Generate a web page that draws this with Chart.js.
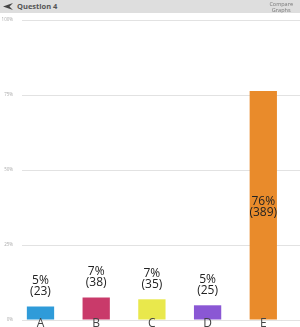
<!DOCTYPE html>
<html>
<head>
<meta charset="utf-8">
<script src="https://cdn.jsdelivr.net/npm/chart.js@4"></script>
<style>
    html, body { margin: 0; padding: 0; background: #fff; }
    body { width: 300px; height: 327px; position: relative; overflow: hidden; font-family: "Open Sans", sans-serif; }
    #header {
        position: absolute; left: 0; top: 0; width: 300px; height: 13px;
        background: #dedede; z-index: 2;
    }
    #header .back { position: absolute; left: 3px; top: 3px; }
    #header .title {
        position: absolute; left: 17px; top: 0; line-height: 13px;
        font-size: 7.5px; font-weight: bold; color: #555;
    }
    #header .compare {
        position: absolute; right: 7px; top: 1px; text-align: center;
        font-size: 5.5px; line-height: 6px; color: #777;
    }
    #wrap { position: absolute; left: 0; top: 0; width: 300px; height: 327px; }
</style>
</head>
<body>
<div id="header">
    <svg class="back" width="10" height="7" viewBox="0 0 10 7"><path d="M0 3.5 L10 0 L6.5 3.5 L10 7 Z" fill="#444"/></svg>
    <div class="title">Question 4</div>
    <div class="compare">Compare<br>Graphs</div>
</div>
<div id="wrap"><canvas id="chart" width="300" height="327"></canvas></div>
<script>
const categories = ['A', 'B', 'C', 'D', 'E'];
const counts = [23, 38, 35, 25, 389];
const percents = [4.5, 7.5, 6.9, 4.9, 76.3];
const percentLabels = ['5%', '7%', '7%', '5%', '76%'];
const barColors = ['#2f9bd9', '#c93a6a', '#e9e84c', '#8a57d4', '#e98b2b'];
const yTicks = [0, 25, 50, 75, 100];

const labelsPlugin = {
    id: 'barLabels',
    afterDatasetsDraw(chart) {
        const ctx = chart.ctx;
        const meta = chart.getDatasetMeta(0);
        const xScale = chart.scales.x;
        const area = chart.chartArea;
        ctx.save();
        ctx.textAlign = 'center';
        ctx.textBaseline = 'middle';
        ctx.font = '12px "Open Sans"';
        ctx.fillStyle = '#222';
        meta.data.forEach((bar, i) => {
            const top = bar.y;
            const base = bar.base;
            if (base - top > 60) {
                const mid = (top + base) / 2;
                ctx.fillText(percentLabels[i], bar.x, mid - 4);
                ctx.fillText('(' + counts[i] + ')', bar.x, mid + 7);
            } else {
                ctx.fillText(percentLabels[i], bar.x, top - 26);
                ctx.fillText('(' + counts[i] + ')', bar.x, top - 15);
            }
        });
        ctx.fillStyle = '#444';
        ctx.textBaseline = 'top';
        categories.forEach((c, i) => {
            ctx.fillText(c, xScale.getPixelForValue(i), area.bottom - 2);
        });
        ctx.restore();
    }
};

new Chart(document.getElementById('chart'), {
    type: 'bar',
    data: {
        datasets: [{
            data: percents.map((p, i) => ({ x: i, y: p })),
            backgroundColor: barColors,
            borderWidth: 0,
            barPercentage: 0.49,
            categoryPercentage: 1
        }]
    },
    options: {
        responsive: false,
        animation: false,
        layout: { padding: { top: 20, bottom: 7, left: 0, right: 0 } },
        plugins: { legend: { display: false }, tooltip: { enabled: false } },
        scales: {
            x: {
                type: 'linear',
                display: false,
                offset: false,
                min: -0.332,
                max: 4.659
            },
            y: {
                min: 0,
                max: 100,
                afterBuildTicks: (scale) => { scale.ticks = yTicks.map(v => ({ value: v })); },
                afterFit: (scale) => {
                    scale.width = 22;
                    scale.paddingTop = 0;
                    scale.paddingBottom = 0;
                },
                border: { display: false },
                grid: { color: '#e2e2e2', drawTicks: false },
                ticks: {
                    padding: 9,
                    color: '#aaa',
                    font: { size: 4.5, family: 'Open Sans' },
                    callback: (v) => v + '%'
                }
            }
        }
    },
    plugins: [labelsPlugin]
});
</script>
</body>
</html>
